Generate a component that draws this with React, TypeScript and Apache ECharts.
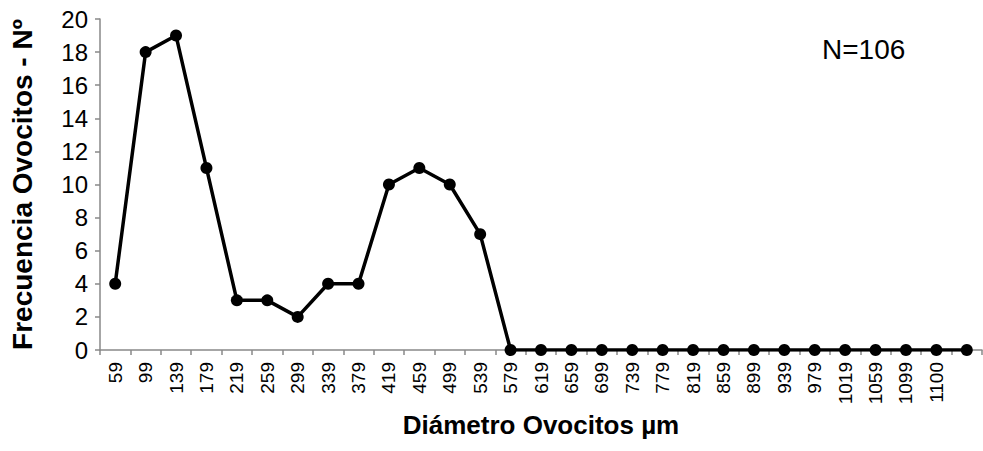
import React, { useEffect, useRef } from "react";
import * as echarts from "echarts";

const categories = ["59","99","139","179","219","259","299","339","379","419","459","499","539","579","619","659","699","739","779","819","859","899","939","979","1019","1059","1099","1100",""];
const values = [4,18,19,11,3,3,2,4,4,10,11,10,7,0,0,0,0,0,0,0,0,0,0,0,0,0,0,0,0];
const yTicks = { min: 0, max: 20, interval: 2 };

export default function App() {
  const ref = useRef<HTMLDivElement>(null);
  useEffect(() => {
    const chart = echarts.init(ref.current!, null, { renderer: "svg" });
    const font = "Liberation Sans, Arial, sans-serif";
    chart.setOption({
      animation: false,
      textStyle: { fontFamily: font },
      grid: { left: 98, right: 1, top: 19, bottom: 101 },
      xAxis: {
        type: "category",
        data: categories,
        boundaryGap: true,
        name: "Diámetro Ovocitos µm",
        nameLocation: "middle",
        nameGap: 47,
        nameTextStyle: { fontSize: 26, fontWeight: "bold", color: "#000", fontFamily: font },
        axisLine: { lineStyle: { color: "#898989", width: 1.5 } },
        axisTick: { show: true, length: 5, alignWithLabel: false, lineStyle: { color: "#898989", width: 1.5 } },
        axisLabel: { rotate: 90, fontSize: 19, color: "#000", fontFamily: font, interval: 0, margin: 12 },
        splitLine: { show: false },
      },
      yAxis: {
        type: "value",
        min: yTicks.min,
        max: yTicks.max,
        interval: yTicks.interval,
        name: "Frecuencia Ovocitos - Nº",
        nameLocation: "middle",
        nameGap: 64,
        nameTextStyle: { fontSize: 28, fontWeight: "bold", color: "#000", fontFamily: font },
        axisLine: { show: true, lineStyle: { color: "#898989", width: 1.5 } },
        axisTick: { show: true, length: 5, lineStyle: { color: "#898989", width: 1.5 } },
        axisLabel: { fontSize: 24, color: "#000", fontFamily: font, margin: 12 },
        splitLine: { show: false },
      },
      graphic: [
        { type: "text", x: 822, y: 49, style: { text: "N=106", fontSize: 28, fill: "#000", fontFamily: font, verticalAlign: "middle" } },
      ],
      series: [
        {
          type: "line",
          data: values,
          symbol: "circle",
          symbolSize: 12,
          lineStyle: { color: "#000", width: 3.5 },
          itemStyle: { color: "#000" },
        },
      ],
    });
    return () => chart.dispose();
  }, []);
  return <div ref={ref} style={{ width: 983, height: 451, position: "absolute", left: 0, top: 0 }} />;
}
